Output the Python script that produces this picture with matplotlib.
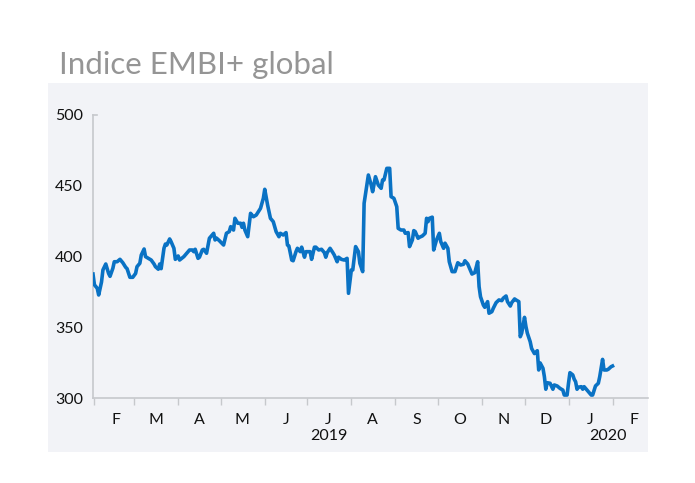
import matplotlib
matplotlib.use("Agg")
import matplotlib.pyplot as plt
import matplotlib.dates as mdates
import matplotlib.transforms as mtransforms
from matplotlib.patches import Rectangle
from matplotlib.ticker import FuncFormatter, NullFormatter
import numpy as np

# ---------------- data ----------------
title = "Indice EMBI+ global"
base_date = "2019-02-01"
day_offsets = [
    -1, 0, 2, 3, 5, 6, 8, 10, 11, 13, 14, 16, 18, 20, 22, 23, 25, 27, 29, 30,
    32, 33, 35, 36, 38, 40, 42, 43, 45, 46, 47, 49, 50, 51, 53, 54, 56, 57, 59, 60,
    63, 65, 67, 69, 70, 71, 73, 74, 76, 77, 79, 81, 84, 85, 86, 88, 91, 93, 95, 96,
    98, 99, 101, 103, 104, 105, 106, 108, 109, 110, 112, 114, 116, 117, 119, 120, 122, 124, 126, 128,
    130, 131, 133, 135, 136, 137, 139, 140, 142, 143, 145, 146, 148, 149, 152, 153, 155, 156, 158, 160,
    162, 163, 164, 166, 168, 169, 171, 172, 174, 176, 178, 179, 181, 182, 184, 186, 187, 189, 190, 193,
    195, 196, 198, 200, 202, 203, 204, 206, 208, 209, 211, 213, 214, 216, 218, 219, 221, 222, 224, 225,
    226, 228, 229, 231, 233, 234, 235, 236, 238, 239, 241, 243, 244, 246, 247, 249, 250, 252, 254, 256,
    258, 260, 261, 263, 265, 266, 268, 270, 271, 272, 274, 275, 277, 278, 280, 281, 283, 285, 287, 288,
    290, 291, 293, 294, 296, 297, 299, 300, 301, 303, 304, 305, 307, 308, 310, 312, 313, 314, 316, 317,
    318, 319, 321, 323, 324, 326, 328, 330, 331, 333, 334, 335, 337, 338, 339, 340, 341, 343, 344, 345,
    346, 348, 350, 351, 353, 355, 356, 358, 359, 361, 362, 364, 365,
]
values = [
    387.6, 380.0, 377.5, 372.8, 382.0, 390.5, 394.7, 388.0, 386.0, 391.7, 396.3, 396.3, 398.0, 395.6, 392.4, 391.4, 385.3, 385.3, 388.0, 392.8,
    395.2, 401.0, 405.3, 399.9, 398.7, 397.5, 394.7, 392.8, 391.0, 394.7, 391.4, 405.8, 408.8, 408.1, 412.4, 410.5, 405.8, 398.0, 400.4, 397.5,
    399.9, 402.3, 404.6, 404.6, 403.4, 405.1, 398.7, 399.5, 404.6, 405.1, 402.3, 412.9, 416.4, 411.7, 413.0, 411.2, 408.1, 416.4, 417.6, 421.1,
    418.7, 427.0, 423.5, 423.5, 420.6, 423.5, 418.7, 414.0, 422.3, 430.5, 428.1, 429.3, 432.4, 434.0, 441.1, 447.5, 436.4, 427.0, 424.6, 417.6,
    414.0, 416.4, 415.2, 416.9, 408.1, 407.4, 397.5, 397.0, 403.4, 405.8, 403.4, 406.6, 399.5, 403.4, 403.4, 398.0, 406.6, 406.6, 404.6, 405.1,
    402.7, 399.5, 402.7, 405.8, 402.7, 401.0, 396.3, 399.5, 398.0, 397.5, 398.7, 374.0, 390.5, 390.5, 407.0, 403.4, 395.2, 389.3, 437.6, 457.6,
    450.5, 445.8, 456.4, 450.5, 448.2, 454.1, 454.1, 462.3, 462.3, 442.3, 441.1, 435.2, 419.9, 418.7, 418.7, 416.4, 416.9, 407.0, 411.7, 418.3,
    417.6, 412.9, 413.6, 414.5, 416.4, 427.0, 424.6, 427.0, 427.8, 404.6, 411.7, 416.4, 410.5, 405.8, 409.4, 405.8, 396.3, 389.3, 389.3, 395.6,
    394.0, 394.5, 397.0, 394.7, 390.0, 387.6, 388.6, 396.3, 378.7, 371.6, 365.7, 364.1, 368.1, 359.9, 361.0, 363.4, 367.4, 369.3, 368.8, 370.5,
    372.1, 368.1, 365.0, 367.4, 370.0, 369.3, 368.1, 343.3, 345.8, 357.0, 350.5, 345.8, 339.8, 335.0, 331.4, 333.4, 319.8, 324.8, 321.0, 315.1,
    306.2, 310.8, 310.4, 306.2, 309.2, 308.5, 306.8, 305.6, 302.1, 302.1, 310.4, 317.9, 316.3, 313.3, 311.5, 306.2, 307.6, 308.0, 306.2, 308.0,
    306.8, 304.4, 302.1, 302.1, 308.5, 310.4, 315.1, 327.3, 319.8, 319.8, 320.3, 322.1, 322.6,
]
y_ticks = [300, 350, 400, 450, 500]
x_start, x_end = "2019-01-31", "2020-02-26"
year_labels = ["2019", "2020"]
year_label_dates = ["2019-07-16", "2020-01-29"]

# ---------------- style ----------------
FONT = ["Lato", "DejaVu Sans"]
plt.rcParams["font.family"] = FONT
LINE = "#0a72c4"
PANEL = "#f2f3f7"
AXC = "#c6c8cc"
TXT = "#111111"

W, H = 695, 483
fig = plt.figure(figsize=(W / 100, H / 100), dpi=100, facecolor="white")

fig.add_artist(Rectangle((48 / W, 1 - 452 / H), (648 - 48) / W, (452 - 83) / H,
                         transform=fig.transFigure, facecolor=PANEL,
                         edgecolor="none", zorder=0))

fig.text(59 / W, 1 - 74 / H, title, fontsize=22.5, color="#959595",
         fontweight="normal", va="baseline", ha="left")

ax = fig.add_axes([93 / W, 1 - 398 / H, (648 - 93) / W, (398 - 115) / H])
ax.set_facecolor("none")

dates = np.datetime64(base_date) + np.array(day_offsets).astype("timedelta64[D]")
ax.plot(dates, values, color=LINE, lw=2.6, solid_joinstyle="round", zorder=3)

ax.set_xlim(np.datetime64(x_start), np.datetime64(x_end))
ax.set_ylim(300, 500)
ax.set_yticks(y_ticks)

for s in ["top", "right"]:
    ax.spines[s].set_visible(False)
for s in ["left", "bottom"]:
    ax.spines[s].set_color(AXC)
    ax.spines[s].set_linewidth(1.2)

ax.tick_params(axis="y", length=0, labelsize=11.5, labelcolor=TXT, pad=7)
# small cap tick at the top of the value axis
ax.plot([0, 0.008], [1, 1], transform=ax.transAxes, color=AXC, lw=1.2,
        clip_on=False)

ax.xaxis.set_major_locator(mdates.MonthLocator(bymonthday=1))
ax.xaxis.set_major_formatter(NullFormatter())
ax.xaxis.set_minor_locator(mdates.MonthLocator(bymonthday=16))
ax.xaxis.set_minor_formatter(FuncFormatter(
    lambda x, pos: mdates.num2date(x).strftime("%b")[0]))
ax.tick_params(axis="x", which="major", direction="out", length=5, width=1,
               color=AXC)
ax.tick_params(axis="x", which="minor", length=0, labelsize=11.5,
               labelcolor=TXT, pad=11)

trans = mtransforms.blended_transform_factory(ax.transData, ax.transAxes)
for lab, d in zip(year_labels, year_label_dates):
    ax.text(np.datetime64(d), -0.135, lab, transform=trans, ha="center",
            va="center", fontsize=11.5, color=TXT)

fig.savefig("out.png", dpi=100, facecolor="white")
